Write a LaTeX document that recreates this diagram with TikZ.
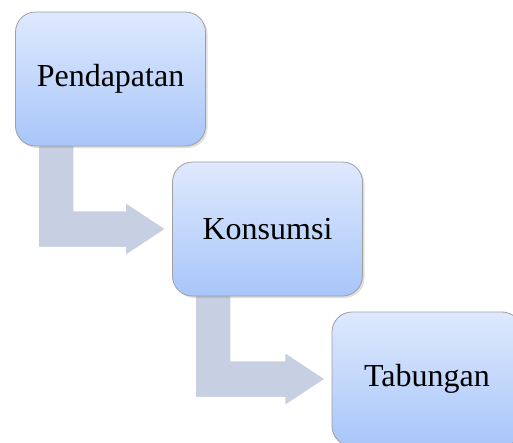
\documentclass[tikz,border=0pt]{standalone}
\usepackage{fontspec}
\setmainfont{Liberation Serif}
\usetikzlibrary{calc, shadows, backgrounds}
\definecolor{boxtop}{HTML}{DEE9FD}
\definecolor{boxbot}{HTML}{A8C6FA}
\definecolor{arrowfill}{HTML}{C6D0E2}

\begin{document}
\begin{tikzpicture}[
    x=1pt, y=-1pt,
    stage/.style={draw=gray!75, line width=0.8pt, rounded corners=20pt,
        top color=boxtop, bottom color=boxbot,
        minimum width=190pt, minimum height=134pt,
        font=\fontsize{32}{38}\selectfont, align=center,
        drop shadow={opacity=0.25, shadow xshift=2pt, shadow yshift=-2pt}},
    bent/.style={fill=arrowfill, draw=white, line width=1.5pt, line join=miter}
]
\clip (0,0) rectangle (513,442);
\node (pend) [stage] at (110.5,79) {Pendapatan};
\node (kons) [stage] at (267.5,229) {Konsumsi};
\node (tab) [stage] at (427,379) {Tabungan};
% bent arrows behind the boxes
\begin{scope}[on background layer]
\foreach \a/\b in {pend/kons, kons/tab}
  \draw[bent] ($(\a.west)+(23,0)$) -- ($(\a.west |- \b.west)+(23,18.5)$)
    -- ($(\b.west)+(-47,18.5)$) -- ($(\b.west)+(-47,27)$)
    -- ($(\b.west)+(-6,0)$)
    -- ($(\b.west)+(-47,-27)$) -- ($(\b.west)+(-47,-18.5)$)
    -- ($(\a.west |- \b.west)+(59,-18.5)$) -- ($(\a.west)+(59,0)$) -- cycle;
\end{scope}
\end{tikzpicture}
\end{document}
